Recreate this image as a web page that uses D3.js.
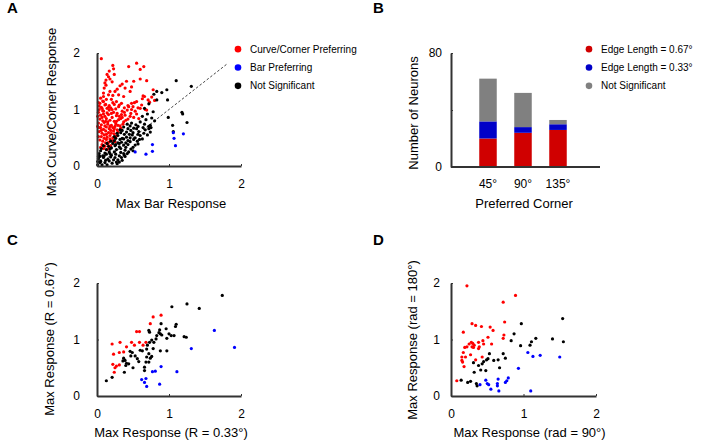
<!DOCTYPE html>
<html><head><meta charset="utf-8">
<script src="https://cdn.jsdelivr.net/npm/d3@7"></script>
<style>
html,body{margin:0;padding:0;background:#fff;}
text{font-family:"Liberation Sans",Arial,sans-serif;fill:#000;}
</style></head>
<body><div id="chart"></div>
<script>
// ---------- DATA ----------
const axisTicks = [0, 1, 2];
const axisTickLabels = ["0", "1", "2"];

// Panel A: [max bar response, max curve/corner response]
const aRed = [[0.06,1.90],[0.22,1.78],[0.23,1.72],[0.17,1.68],[0.44,1.76],[0.55,1.82],[0.65,1.76],[0.60,1.71],[0.24,1.62],[0.14,1.62],[0.16,1.58],[0.18,1.54],[0.125,1.52],[0.21,1.49],[0.41,1.50],[0.51,1.50],[0.60,1.54],[0.69,1.51],[0.11,1.47],[0.48,1.40],[0.39,1.38],[0.32,1.42],[0.10,1.38],[0.125,1.43],[0.78,1.35],[0.18,1.32],[0.25,1.32],[0.46,1.32],[0.09,1.29],[0.28,1.36],[0.35,1.45],
[0.16,1.26],[0.22,1.25],[0.30,1.26],[0.37,1.23],[0.64,1.24],[0.66,1.23],[0.76,1.22],[0.09,1.23],[0.05,1.20],[0.13,1.18],[0.20,1.18],[0.80,1.16],[0.63,1.19],[0.71,1.17],[0.02,1.12],[0.04,1.11],[0.09,1.14],[0.27,1.14],[0.34,1.11],[0.48,1.11],[0.55,1.14],[0.11,1.08],[0.17,1.07],[0.24,1.09],[0.30,1.05],[0.06,1.04],[0.14,1.02],[0.50,1.05],[0.60,1.02],[0.38,1.03],[0.43,1.07],[0.69,0.99],[0.21,1.00],[0.03,1.00],[0.08,0.98],
[0.03,1.06],[0.07,1.02],[0.12,1.09],[0.19,1.03],[0.26,1.01],[0.31,1.08],[0.02,0.95],[0.09,0.97],[0.14,0.94],[0.17,0.99],[0.23,0.95],[0.28,0.93],[0.35,0.97],[0.42,0.99],[0.05,0.90],[0.11,0.88],[0.16,0.91],[0.21,0.86],[0.27,0.89],[0.33,0.84],[0.39,0.90],[0.46,0.88],[0.04,0.83],[0.08,0.80],[0.13,0.84],[0.18,0.81],[0.24,0.79],[0.30,0.82],[0.37,0.78],[0.43,0.83],[0.02,0.76],[0.06,0.73],[0.10,0.77],[0.15,0.74],[0.20,0.72],[0.26,0.75],[0.32,0.71],[0.36,0.74],[0.05,0.68],[0.09,0.65],[0.13,0.69],[0.17,0.66],[0.22,0.68],[0.28,0.64],[0.33,0.67],[0.03,0.61],[0.07,0.58],[0.12,0.62],[0.16,0.59],[0.19,0.63],[0.24,0.57],[0.29,0.60],[0.06,0.52],[0.10,0.55],[0.14,0.51],[0.18,0.54],[0.22,0.50],[0.27,0.53],[0.04,0.46],[0.08,0.44],[0.13,0.47],[0.16,0.42],[0.21,0.45],[0.25,0.43],[0.07,0.38],[0.11,0.35],[0.15,0.39],[0.19,0.36],[0.09,0.31],[0.14,0.29],[0.17,0.32],[0.05,0.33],[0.12,0.41],[0.20,0.58],[0.11,0.71],[0.07,0.86],[0.15,0.78],[0.25,0.70],[0.31,0.88],[0.38,0.95],[0.01,0.88],[0.01,0.70],[0.02,0.52],[0.16,1.04],[0.22,1.12],[0.08,1.15],[0.13,0.56],[0.23,0.62],[0.18,0.70],[0.27,0.79],[0.34,0.91],[0.40,0.81],[0.09,0.92],[0.20,0.93],[0.03,0.68],[0.06,0.63],[0.10,0.49],[0.18,0.48],[0.24,0.66],[0.29,0.72],[0.12,0.79],[0.35,0.86],
[0.47,0.93],[0.55,0.92],[0.51,0.86],[0.58,0.84],[0.48,1.00],[0.44,1.05],[0.52,1.12],[0.57,1.03],[0.62,1.08],[0.67,1.00],[0.73,1.13],[0.53,0.97]];
const aBlue = [[0.53,0.25],[0.68,0.21],[0.77,0.26],[0.77,0.38],[1.06,0.59],[1.07,0.49],[1.09,0.36],[1.20,0.57]];
const aBlack = [[1.10,1.51],[1.31,1.41],[0.97,1.35],[0.83,1.32],[0.79,1.27],[0.83,1.17],[0.98,1.17],[0.90,1.30],[0.78,0.96],[1.18,0.95],[1.19,0.92],[0.99,0.86],[1.25,0.77],[1.05,0.72],[1.06,0.61],[0.74,0.72],[0.75,0.68],[0.74,0.60],[0.72,1.10],[0.66,1.02],[0.70,0.92],[0.63,0.88],[0.68,0.82],
[0.01,0.02],[0.04,0.06],[0.07,0.02],[0.02,0.13],[0.05,0.09],[0.11,0.06],[0.14,0.02],
[0.04,0.17],[0.09,0.15],[0.12,0.10],[0.17,0.09],[0.21,0.05],[0.03,0.22],[0.08,0.18],
[0.10,0.18],[0.15,0.12],[0.19,0.16],[0.23,0.11],[0.27,0.07],[0.05,0.27],[0.11,0.23],
[0.13,0.21],[0.18,0.22],[0.20,0.19],[0.25,0.15],[0.29,0.11],[0.31,0.07],[0.13,0.29],
[0.17,0.25],[0.18,0.30],[0.24,0.25],[0.26,0.21],[0.31,0.18],[0.34,0.15],[0.16,0.35],
[0.20,0.32],[0.25,0.36],[0.27,0.29],[0.33,0.24],[0.37,0.22],[0.39,0.17],[0.22,0.40],
[0.26,0.38],[0.31,0.34],[0.33,0.31],[0.39,0.28],[0.42,0.22],[0.24,0.45],[0.29,0.41],
[0.31,0.40],[0.37,0.37],[0.40,0.33],[0.47,0.30],[0.26,0.49],[0.32,0.47],[0.34,0.42],
[0.40,0.41],[0.43,0.38],[0.50,0.33],[0.29,0.54],[0.35,0.49],[0.37,0.48],[0.43,0.45],
[0.46,0.43],[0.53,0.37],[0.33,0.59],[0.38,0.56],[0.41,0.51],[0.46,0.50],[0.51,0.47],
[0.56,0.44],[0.35,0.63],[0.41,0.60],[0.45,0.56],[0.49,0.55],[0.53,0.50],[0.59,0.47],
[0.43,0.66],[0.47,0.63],[0.50,0.59],[0.57,0.56],[0.60,0.54],[0.46,0.71],[0.51,0.67],
[0.55,0.66],[0.58,0.61],[0.65,0.58],[0.48,0.76],[0.54,0.73],[0.57,0.70],[0.64,0.68],[0.67,0.64],
[0.60,0.78],[0.66,0.74],[0.72,0.70],[0.70,0.55],[0.63,0.48],[0.57,0.39],[0.50,0.27],[0.44,0.25],[0.38,0.19],[0.35,0.10],[0.28,0.04],[0.06,0.31],[0.09,0.36],[0.14,0.40],[0.19,0.44],[0.24,0.52],[0.28,0.58],[0.32,0.64],[0.37,0.69],[0.42,0.74],[0.02,0.17],[0.01,0.08],[0.76,0.85],[0.80,0.80],[0.72,0.66]];
const aDiagonal = [0, 1.8];

// Panel B: stacked neuron counts per preferred corner
const bCategories = ["45°", "90°", "135°"];
const bRed = [20, 24, 26];   // Edge Length = 0.67°
const bBlue = [12, 4, 4];    // Edge Length = 0.33°
const bGray = [30, 24, 3];   // Not Significant
const bTicks = [0, 40, 80];
const bTickLabels = ["0", "", "80"];

// Panel C: [R = 0.33°, R = 0.67°]
const cRed = [[0.21,0.92],[0.23,0.74],[0.22,0.56],[0.25,0.50],[0.27,0.53],[0.31,0.55],[0.24,0.42],[0.31,0.77],[0.32,0.95],[0.37,0.78],[0.41,0.87],[0.48,0.95],[0.52,0.90],[0.55,1.14],[0.59,1.14],[0.59,0.95],[0.68,0.95],[0.74,1.28],[0.78,1.40],[0.89,1.43],[0.64,0.90]];
const cBlue = [[0.62,0.29],[0.66,0.24],[0.68,0.31],[0.69,0.17],[0.77,0.43],[0.81,0.44],[0.89,0.52],[0.87,0.21],[1.11,0.43],[1.31,0.84],[1.63,1.16],[1.91,0.86]];
const cBlack = [[0.13,0.27],[0.21,0.33],[0.38,0.42],[0.37,0.67],[0.39,0.63],[0.41,0.58],[0.44,0.57],[0.40,0.54],[0.49,0.77],[0.47,0.71],[0.50,0.50],[0.53,0.71],[0.56,0.66],[0.58,0.61],[0.60,0.81],[0.63,0.80],[0.69,0.83],[0.70,0.90],[0.72,0.75],[0.69,0.69],[0.68,0.60],[0.66,0.51],[0.66,0.45],[0.72,0.60],[0.74,0.67],[0.76,0.70],[0.78,0.84],[0.73,0.95],[0.72,1.16],[0.73,1.13],[0.76,0.99],[0.83,1.07],[0.82,1.01],[0.86,1.12],[0.89,1.28],[0.87,1.17],[0.88,1.10],[0.90,1.08],[0.96,1.19],[0.97,1.02],[0.88,0.80],[0.97,0.80],[1.00,1.10],[1.04,1.58],[1.03,1.07],[1.07,1.07],[1.09,1.23],[1.10,1.27],[1.21,1.05],[1.24,1.04],[1.25,1.63],[1.42,1.55],[1.74,1.78],[0.79,0.95],[0.46,0.79],[0.36,0.62]];

// Panel D: [rad = 90°, rad = 180°]
const dRed = [[0.08,0.27],[0.22,1.95],[0.17,1.13],[0.19,0.86],[0.17,0.77],[0.15,0.69],[0.20,0.69],[0.15,0.63],[0.16,0.60],[0.18,0.52],[0.22,0.87],[0.25,0.92],[0.28,0.95],[0.30,0.93],[0.32,0.90],[0.31,0.86],[0.27,0.73],[0.29,0.87],[0.34,0.64],[0.29,1.28],[0.34,1.25],[0.38,0.95],[0.39,0.87],[0.38,0.84],[0.44,0.98],[0.45,0.92],[0.42,1.23],[0.51,1.04],[0.54,1.22],[0.58,1.16],[0.56,0.92],[0.43,0.69],[0.72,1.66],[0.89,1.78],[0.74,1.31],[0.73,1.08],[0.72,1.02]];
const dBlue = [[0.40,0.20],[0.48,0.28],[0.50,0.22],[0.52,0.20],[0.55,0.12],[0.65,0.30],[0.64,0.22],[0.64,0.18],[0.66,0.09],[0.75,0.24],[0.77,0.27],[0.79,0.32],[0.93,0.49],[1.06,0.77],[1.13,0.70],[1.23,0.72],[1.10,0.09],[1.50,0.69]];
const dBlack = [[0.14,0.28],[0.23,0.24],[0.27,0.26],[0.35,0.22],[0.36,0.18],[0.32,0.42],[0.31,0.59],[0.43,0.57],[0.48,0.45],[0.45,0.61],[0.49,0.64],[0.51,0.66],[0.53,0.75],[0.59,0.63],[0.65,0.64],[0.67,0.50],[0.72,0.75],[0.75,0.67],[0.87,1.10],[0.97,1.28],[0.83,0.98],[0.96,0.89],[1.09,0.90],[1.11,0.96],[1.17,1.02],[1.40,1.01],[1.54,1.37],[1.55,0.96],[0.38,0.54],[0.41,0.46]];

const legendA = ["Curve/Corner Preferring", "Bar Preferring", "Not Significant"];
const legendB = ["Edge Length = 0.67°", "Edge Length = 0.33°", "Not Significant"];

// ---------- STYLE ----------
const RED = "#ff0000", BLUE = "#0000ff", BLACK = "#000000";
const BAR_RED = "#d00000", BAR_BLUE = "#0000c8", BAR_GRAY = "#808080";
const AXIS = "#333333";

const svg = d3.select("#chart").append("svg").attr("width", 707).attr("height", 441);
svg.append("rect").attr("width", 707).attr("height", 441).attr("fill", "#fff");

function styleAxis(g) {
  g.select(".domain").attr("stroke", AXIS).attr("stroke-width", 2);
  g.selectAll(".tick line").attr("stroke", AXIS).attr("stroke-width", 1);
  g.selectAll(".tick text").attr("font-size", 12).attr("fill", "#000")
    .attr("font-family", "Liberation Sans, Arial, sans-serif");
}

function scatter(cfg) {
  const x = d3.scaleLinear().domain([0, 2]).range(cfg.xr);
  const y = d3.scaleLinear().domain([0, 2]).range(cfg.yr);
  const g = svg.append("g");
  if (cfg.diag) {
    g.append("line")
      .attr("x1", x(cfg.diag[0])).attr("y1", y(cfg.diag[0]))
      .attr("x2", x(cfg.diag[1])).attr("y2", y(cfg.diag[1]))
      .attr("stroke", "#444").attr("stroke-width", 1).attr("stroke-dasharray", "2.5,2");
  }
  [[cfg.red, RED], [cfg.black, BLACK], [cfg.blue, BLUE]].forEach(([pts, col]) => {
    g.append("g").selectAll("circle").data(pts).join("circle")
      .attr("cx", d => x(d[0])).attr("cy", d => y(d[1])).attr("r", 1.6).attr("fill", col);
  });
  const xa = g.append("g").attr("transform", `translate(0,${cfg.yr[0]})`)
    .call(d3.axisBottom(x).tickValues(axisTicks).tickFormat((d, i) => axisTickLabels[i])
      .tickSizeInner(-2).tickSizeOuter(0).tickPadding(13));
  styleAxis(xa);
  const ya = g.append("g").attr("transform", `translate(${cfg.xr[0]},0)`)
    .call(d3.axisLeft(y).tickValues(axisTicks).tickFormat((d, i) => axisTickLabels[i])
      .tickSizeInner(-2).tickSizeOuter(0).tickPadding(cfg.ypad));
  styleAxis(ya);
  g.append("text").attr("x", (cfg.xr[0] + cfg.xr[1]) / 2 + cfg.xtDx).attr("y", cfg.xtY)
    .attr("text-anchor", "middle").attr("font-size", 13).text(cfg.xTitle);
  g.append("text").attr("transform", `translate(${cfg.ytX},${cfg.ytY}) rotate(-90)`)
    .attr("text-anchor", "middle").attr("font-size", 13).text(cfg.yTitle);
}

function legend(x0, items, colors) {
  const ly = d3.scaleBand().domain(items).range([40, 95]);
  const g = svg.append("g");
  g.selectAll("circle").data(items).join("circle")
    .attr("cx", x0).attr("cy", d => ly(d) + ly.bandwidth() / 2).attr("r", 3.3)
    .attr("fill", (d, i) => colors[i]);
  g.selectAll("text").data(items).join("text")
    .attr("x", x0 + 12).attr("y", d => ly(d) + ly.bandwidth() / 2).attr("dy", "0.35em")
    .attr("font-size", 10).text(d => d);
}

function panelLabel(x, y, t) {
  svg.append("text").attr("x", x).attr("y", y).attr("font-size", 15)
    .attr("font-weight", "bold").text(t);
}

// Panel A
scatter({xr: [97, 241], yr: [166, 53], red: aRed, black: aBlack, blue: aBlue, diag: aDiagonal,
  xTitle: "Max Bar Response", yTitle: "Max Curve/Corner Response",
  xtY: 208, xtDx: 2, ytX: 56, ytY: 112, ypad: 17});
legend(238, legendA, [RED, BLUE, BLACK]);
panelLabel(7, 13, "A");

// Panel B
(function() {
  const x = d3.scaleBand().domain(bCategories).range([470.5, 575.5]).paddingInner(0.5).paddingOuter(0.25);
  const y = d3.scaleLinear().domain([0, 80]).range([167, 53]);
  const rows = bCategories.map((c, i) => ({cat: c, red: bRed[i], blue: bBlue[i], gray: bGray[i]}));
  const stack = d3.stack().keys(["red", "blue", "gray"])(rows);
  const cols = {red: BAR_RED, blue: BAR_BLUE, gray: BAR_GRAY};
  const g = svg.append("g");
  stack.forEach(layer => {
    g.append("g").selectAll("rect").data(layer).join("rect")
      .attr("x", d => x(d.data.cat)).attr("width", x.bandwidth())
      .attr("y", d => y(d[1])).attr("height", d => y(d[0]) - y(d[1]))
      .attr("fill", cols[layer.key]);
  });
  const xa = g.append("g").attr("transform", `translate(0,${y(0)})`)
    .call(d3.axisBottom(x).tickSize(0).tickPadding(12));
  styleAxis(xa);
  xa.select(".domain").remove();
  g.append("line").attr("x1", 451).attr("x2", 600).attr("y1", y(0)).attr("y2", y(0))
    .attr("stroke", AXIS).attr("stroke-width", 2);
  const ya = g.append("g").attr("transform", `translate(451,0)`)
    .call(d3.axisLeft(y).tickValues(bTicks).tickFormat((d, i) => bTickLabels[i])
      .tickSizeInner(-2).tickSizeOuter(0).tickPadding(9));
  styleAxis(ya);
  g.append("text").attr("x", 524).attr("y", 208).attr("text-anchor", "middle")
    .attr("font-size", 13).text("Preferred Corner");
  g.append("text").attr("transform", "translate(418,113) rotate(-90)")
    .attr("text-anchor", "middle").attr("font-size", 13).text("Number of Neurons");
})();
legend(589, legendB, [BAR_RED, BAR_BLUE, BAR_GRAY]);
panelLabel(373, 13, "B");

// Panel C
scatter({xr: [97, 241], yr: [396, 283], red: cRed, black: cBlack, blue: cBlue,
  xTitle: "Max Response (R = 0.33°)", yTitle: "Max Response (R = 0.67°)",
  xtY: 437, xtDx: 2, ytX: 54, ytY: 339, ypad: 17});
panelLabel(7, 245, "C");

// Panel D
scatter({xr: [451, 596], yr: [396, 283], red: dRed, black: dBlack, blue: dBlue,
  xTitle: "Max Response (rad = 90°)", yTitle: "Max Response (rad = 180°)",
  xtY: 437, xtDx: 6, ytX: 417, ytY: 340, ypad: 11});
panelLabel(373, 245, "D");
</script>
</body></html>
